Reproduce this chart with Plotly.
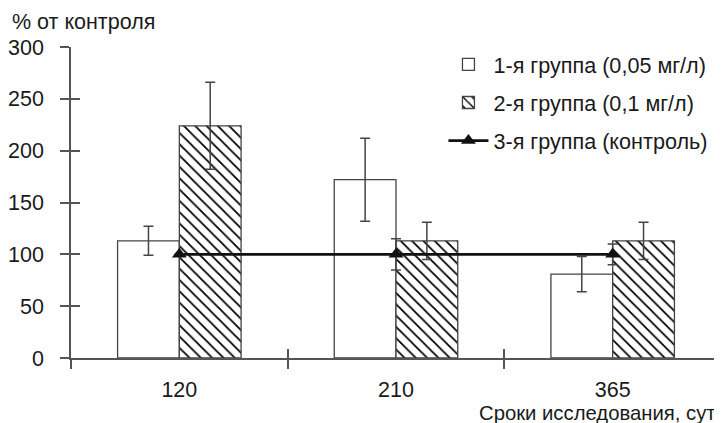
import plotly.graph_objects as go

categories = ["120", "210", "365"]
group1_values = [113, 172, 81]
group1_errors = [14, 40, 17]
group2_values = [224, 113, 113]
group2_errors = [42, 18, 18]
control_values = [100, 100, 100]
control_errors = [0, 15, 10]
y_ticks = [0, 50, 100, 150, 200, 250, 300]

names = ["1-я группа (0,05 мг/л)", "2-я группа (0,1 мг/л)", "3-я группа (контроль)"]

FONT = "Liberation Sans, Arial, sans-serif"
AX = "#555555"
TXT = "#1a1a1a"
FS = 21.5

fig = go.Figure()

fig.add_trace(go.Bar(
    x=categories, y=group1_values, name=names[0], legendgroup="g1",
    marker=dict(color="white", line=dict(color="#444444", width=1.3)),
    error_y=dict(type="data", array=group1_errors, color="#444444", thickness=1.5, width=5),
))
fig.add_trace(go.Bar(
    x=categories, y=group2_values, name=names[1], legendgroup="g2",
    marker=dict(color="white", line=dict(color="#444444", width=1.3),
                pattern=dict(shape="\\", fgcolor="#000000", bgcolor="white", size=8,
                             solidity=0.22, fgopacity=1)),
    error_y=dict(type="data", array=group2_errors, color="#444444", thickness=1.5, width=5),
))
fig.add_trace(go.Scatter(
    x=categories, y=control_values, name=names[2], mode="lines+markers", legendgroup="g3",
    line=dict(color="#111111", width=2.6),
    marker=dict(symbol="triangle-up", size=13, color="#111111"),
    error_y=dict(type="data", array=control_errors, color="#444444", thickness=1.5, width=5),
))
# invisible helper trace for the inner half of the crossing ticks
fig.add_trace(go.Scatter(
    x=categories, y=control_values, xaxis="x2", yaxis="y2", mode="markers",
    marker=dict(opacity=0), showlegend=False, hoverinfo="skip",
))

fig.update_layout(
    width=714, height=415,
    margin=dict(l=63, r=1, t=39, b=65, autoexpand=False),
    paper_bgcolor="white", plot_bgcolor="white",
    font=dict(family=FONT, size=FS, color=TXT),
    barmode="group", bargap=0.43, bargroupgap=0,
    showlegend=True,
    legend=dict(x=0.573, y=1.01, xanchor="left", yanchor="top",
                font=dict(size=21.6, family=FONT, color=TXT),
                bgcolor="rgba(0,0,0,0)", tracegroupgap=7, itemwidth=40),
    xaxis=dict(type="category", categoryorder="array", categoryarray=categories,
               range=[-0.5, 2.5], showline=True, linecolor=AX, linewidth=1.5,
               ticks="outside", ticklen=9, tickwidth=1.5, tickcolor=AX,
               tickson="boundaries", showgrid=False, zeroline=False, automargin=False,
               tickfont=dict(size=FS, family=FONT, color=TXT), ticklabelstandoff=11),
    yaxis=dict(range=[0, 300], tickvals=y_ticks, showline=True, linecolor=AX, linewidth=1.5,
               ticks="outside", ticklen=9, tickwidth=1.5, tickcolor=AX,
               showgrid=False, zeroline=False, automargin=False,
               tickfont=dict(size=FS, family=FONT, color=TXT), ticklabelstandoff=12),
    xaxis2=dict(type="category", categoryorder="array", categoryarray=categories,
                range=[-0.5, 2.5], overlaying="x", anchor="y2", showline=False,
                ticks="inside", ticklen=9, tickwidth=1.5, tickcolor=AX, automargin=False,
                tickson="boundaries", showticklabels=False, showgrid=False, zeroline=False),
    yaxis2=dict(range=[0, 300], tickvals=y_ticks, overlaying="y", anchor="x2", showline=False,
                ticks="inside", ticklen=9, tickwidth=1.5, tickcolor=AX, automargin=False,
                showticklabels=False, showgrid=False, zeroline=False),
)

fig.add_annotation(text="% от контроля", xref="paper", yref="paper",
                   x=-0.094, y=1.08, xanchor="left", yanchor="middle",
                   showarrow=False, font=dict(size=FS, family=FONT, color=TXT))
fig.add_annotation(text="Сроки исследования, сут", xref="paper", yref="paper",
                   x=0.996, y=-0.177, xanchor="right", yanchor="middle",
                   showarrow=False, font=dict(size=20.3, family=FONT, color=TXT))
fig.add_annotation(text="*+", x=categories[0], y=285, xref="x", yref="y", xshift=29,
                   showarrow=False, font=dict(size=19, family=FONT, color=TXT))
fig.add_annotation(text="*", x=categories[1], y=224, xref="x", yref="y", xshift=-31,
                   showarrow=False, font=dict(size=19, family=FONT, color=TXT))

fig.write_html("out.html")
